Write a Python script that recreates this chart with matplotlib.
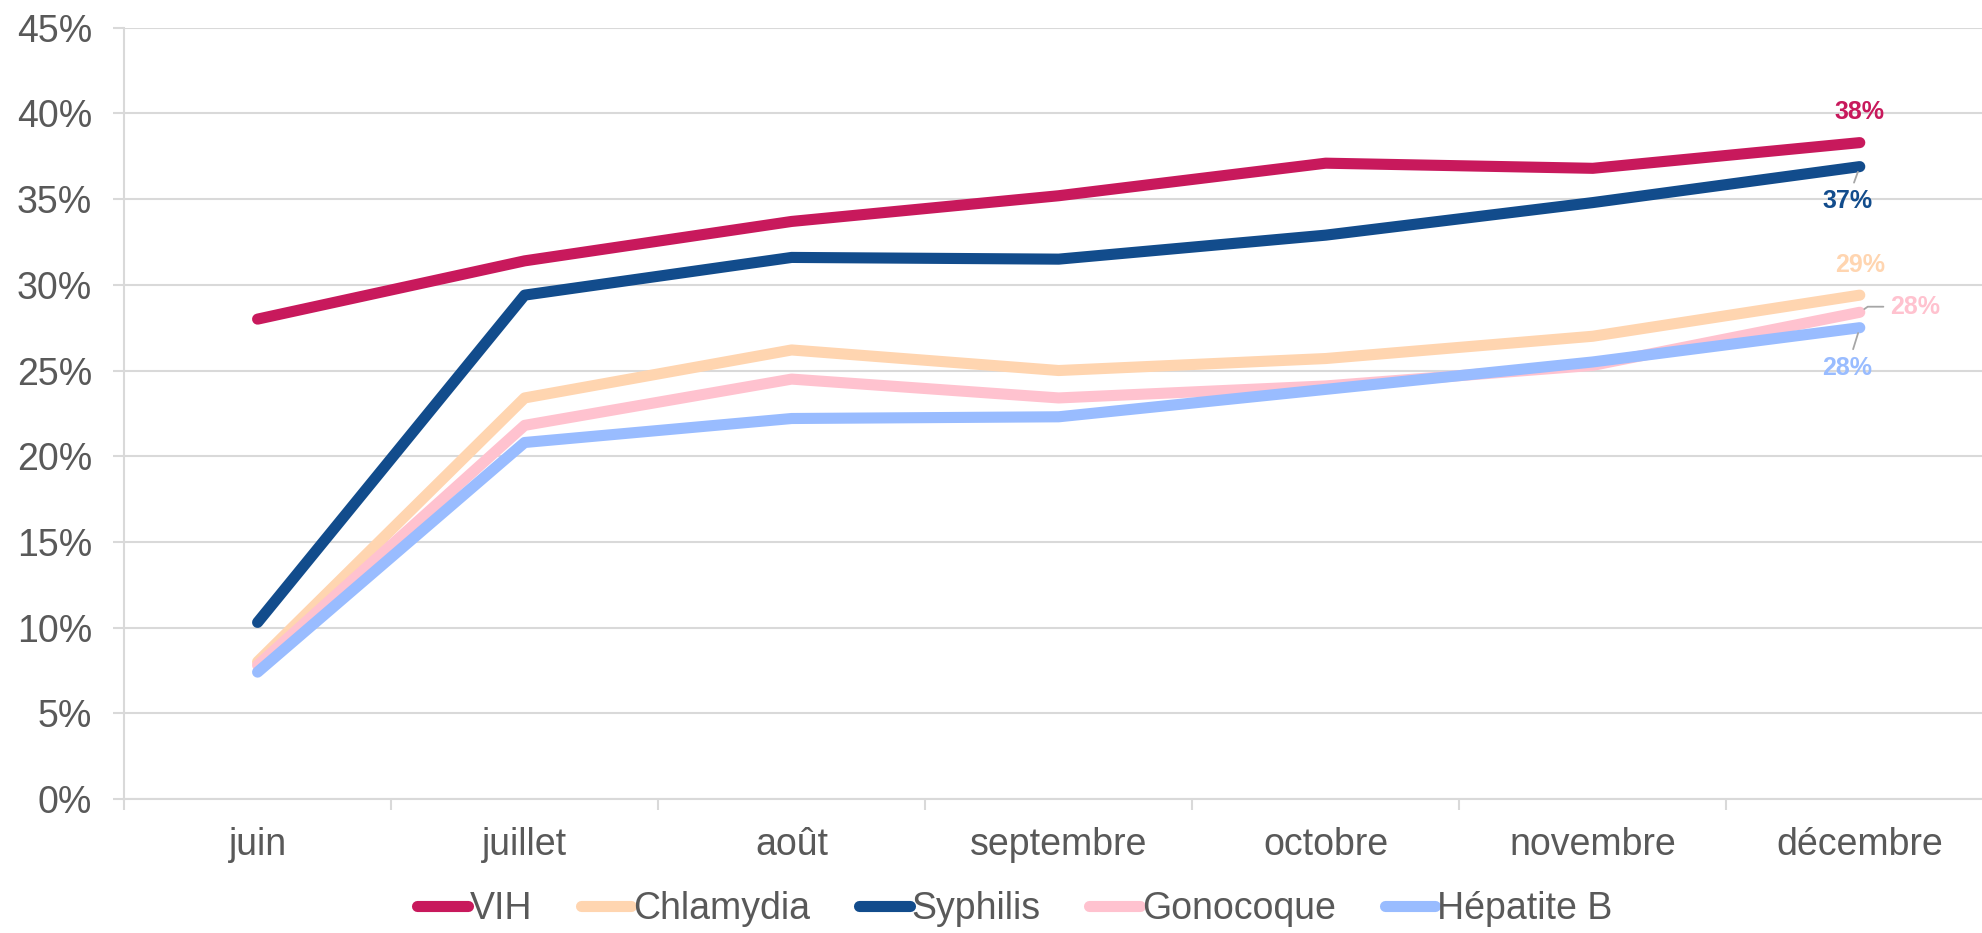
import numpy as np
import matplotlib.pyplot as plt
from matplotlib.ticker import FuncFormatter, MultipleLocator

plt.rcParams['font.family'] = ['Liberation Sans', 'DejaVu Sans']

mois = ['juin', 'juillet', 'août', 'septembre', 'octobre', 'novembre', 'décembre']
vih = [28.0, 31.4, 33.7, 35.2, 37.1, 36.8, 38.3]
chlamydia = [8.0, 23.4, 26.2, 25.0, 25.7, 27.0, 29.4]
syphilis = [10.3, 29.4, 31.6, 31.5, 32.9, 34.8, 36.9]
gonocoque = [7.8, 21.8, 24.5, 23.4, 24.1, 25.3, 28.4]
hepatite_b = [7.4, 20.8, 22.2, 22.3, 23.9, 25.5, 27.5]

series = [
    ('VIH', vih, '#C8195C'),
    ('Chlamydia', chlamydia, '#FFD5B0'),
    ('Syphilis', syphilis, '#124C8C'),
    ('Gonocoque', gonocoque, '#FFC2CF'),
    ('Hépatite B', hepatite_b, '#99BCFF'),
]

fig = plt.figure(figsize=(19.82, 9.33), dpi=100)
ax = fig.add_axes([0.0626, 0.1437, 0.9431, 0.8265])
x = np.arange(len(mois))

for nom, vals, col in series:
    ax.plot(x, vals, color=col, lw=8, solid_capstyle='round', label=nom)

ax.set_xlim(-0.5, 6.5)
ax.set_ylim(0, 45)
ax.yaxis.set_major_locator(MultipleLocator(5))
ax.yaxis.set_major_formatter(FuncFormatter(lambda v, p: f'{v:.0f}%'))
ax.set_xticks(x)
ax.set_xticklabels(mois)
ax.set_xticks(np.arange(-0.5, 7, 1), minor=True)
ax.grid(axis='y', color='#D9D9D9', lw=1.5)
ax.set_axisbelow(True)
for s in ['top', 'right']:
    ax.spines[s].set_visible(False)
for s in ['left', 'bottom']:
    ax.spines[s].set_color('#D9D9D9')
    ax.spines[s].set_linewidth(1.5)
ax.tick_params(axis='x', which='major', length=0, pad=20, labelsize=27, labelcolor='#595959')
ax.tick_params(axis='x', which='minor', length=8, color='#D9D9D9', width=1.5)
ax.tick_params(axis='y', length=8, color='#D9D9D9', width=1.5, pad=15, labelsize=27, labelcolor='#595959')

lead = dict(arrowstyle='-', color='#A6A6A6', lw=1.3, shrinkA=3, shrinkB=4)
lab = dict(textcoords='offset points', ha='center', va='center', fontsize=18, fontweight='bold')
d = 6
ax.annotate(f'{vih[d]:.0f}%', (d, vih[d]), xytext=(0, 22), color='#C8195C', **lab)
ax.annotate(f'{syphilis[d]:.0f}%', (d, syphilis[d]), xytext=(-9, -25), color='#124C8C',
            arrowprops=lead, **lab)
ax.annotate(f'{chlamydia[d]:.0f}%', (d, chlamydia[d]), xytext=(0, 22), color='#FFD5B0', **lab)
ax.annotate(f'{gonocoque[d]:.0f}%', (d, gonocoque[d]), xytext=(40, 4), color='#FFC2CF',
            arrowprops=dict(arrowstyle='-', color='#A6A6A6', lw=1.3, shrinkA=3, shrinkB=4,
                            connectionstyle='angle,angleA=0,angleB=35,rad=0'), **lab)
ax.annotate(f'{hepatite_b[d]:.0f}%', (d, hepatite_b[d]), xytext=(-9, -29), color='#99BCFF',
            arrowprops=lead, **lab)

fig.legend(loc='center', bbox_to_anchor=(0.512, 0.026), ncol=5, frameon=False,
           fontsize=27, labelcolor='#595959', handlelength=1.35, handletextpad=0.05,
           columnspacing=1.3)

fig.savefig('out.png', dpi=100)
